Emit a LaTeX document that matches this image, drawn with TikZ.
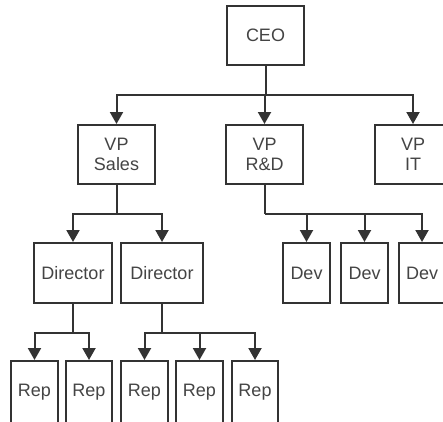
\documentclass[tikz,border=0pt]{standalone}
\usepackage{fontspec}
\setmainfont{Liberation Sans}
\usetikzlibrary{arrows.meta}
\definecolor{edge}{HTML}{333333}
\definecolor{label}{HTML}{444444}
\tikzset{
  box/.style={draw=edge, line width=2pt, fill=white, inner sep=0pt,
              align=center, text=label, font=\fontsize{18}{20}\selectfont},
  conn/.style={draw=edge, line width=2pt},
  arr/.style={conn, -{Triangle[length=12pt,width=13pt]}}
}
\begin{document}
\begin{tikzpicture}[x=1pt,y=-1pt]
\useasboundingbox (0,0) rectangle (443,421);
\clip (0,0) rectangle (443,421);
% top level
\node[box, minimum width=77pt, minimum height=59pt] (ceo) at (265.5,35.5) {CEO};
% vice presidents
\node[box, minimum width=77pt, minimum height=59pt] (vps) at (116.5,154.5) {VP\\Sales};
\node[box, minimum width=77pt, minimum height=59pt] (vpr) at (264.5,154.5) {VP\\R\&D};
\node[box, minimum width=77pt, minimum height=59pt] (vpi) at (413,154.5) {VP\\IT};
% directors and developers
\node[box, minimum width=78pt, minimum height=60pt] (dir1) at (73,273) {Director};
\node[box, minimum width=82pt, minimum height=60pt] (dir2) at (162,273) {Director};
\node[box, minimum width=47pt, minimum height=60pt] (dev1) at (306.5,273) {Dev};
\node[box, minimum width=47pt, minimum height=60pt] (dev2) at (364.5,273) {Dev};
\node[box, minimum width=47pt, minimum height=60pt] (dev3) at (422,273) {Dev};
% representatives
\node[box, minimum width=47pt, minimum height=62pt] (rep1) at (34.5,392) {Rep};
\node[box, minimum width=46pt, minimum height=62pt] (rep2) at (89,392) {Rep};
\node[box, minimum width=47pt, minimum height=62pt] (rep3) at (144.5,392) {Rep};
\node[box, minimum width=47pt, minimum height=62pt] (rep4) at (199.5,392) {Rep};
\node[box, minimum width=46pt, minimum height=62pt] (rep5) at (255,392) {Rep};
% bus junctions
\coordinate (bceo) at (265.5,95);
\coordinate (bsales) at (116.5,214);
\coordinate (brd) at (264.5,214);
\coordinate (bd1) at (73,333);
\coordinate (bd2) at (162,333);
% connectors
\draw[conn] (ceo.south) -- (bceo);
\draw[arr] (bceo) -| (vps.north);
\draw[arr] (bceo) -| (vpr.north);
\draw[arr] (bceo) -| (vpi.north);
\draw[conn] (vps.south) -- (bsales);
\draw[arr] (bsales) -| (dir1.north);
\draw[arr] (bsales) -| (dir2.north);
\draw[conn] (vpr.south) -- (brd);
\draw[arr] (brd) -| (dev1.north);
\draw[arr] (brd) -| (dev2.north);
\draw[arr] (brd) -| (dev3.north);
\draw[conn] (dir1.south) -- (bd1);
\draw[arr] (bd1) -| (rep1.north);
\draw[arr] (bd1) -| (rep2.north);
\draw[conn] (dir2.south) -- (bd2);
\draw[arr] (bd2) -| (rep3.north);
\draw[arr] (bd2) -| (rep4.north);
\draw[arr] (bd2) -| (rep5.north);
\end{tikzpicture}
\end{document}
